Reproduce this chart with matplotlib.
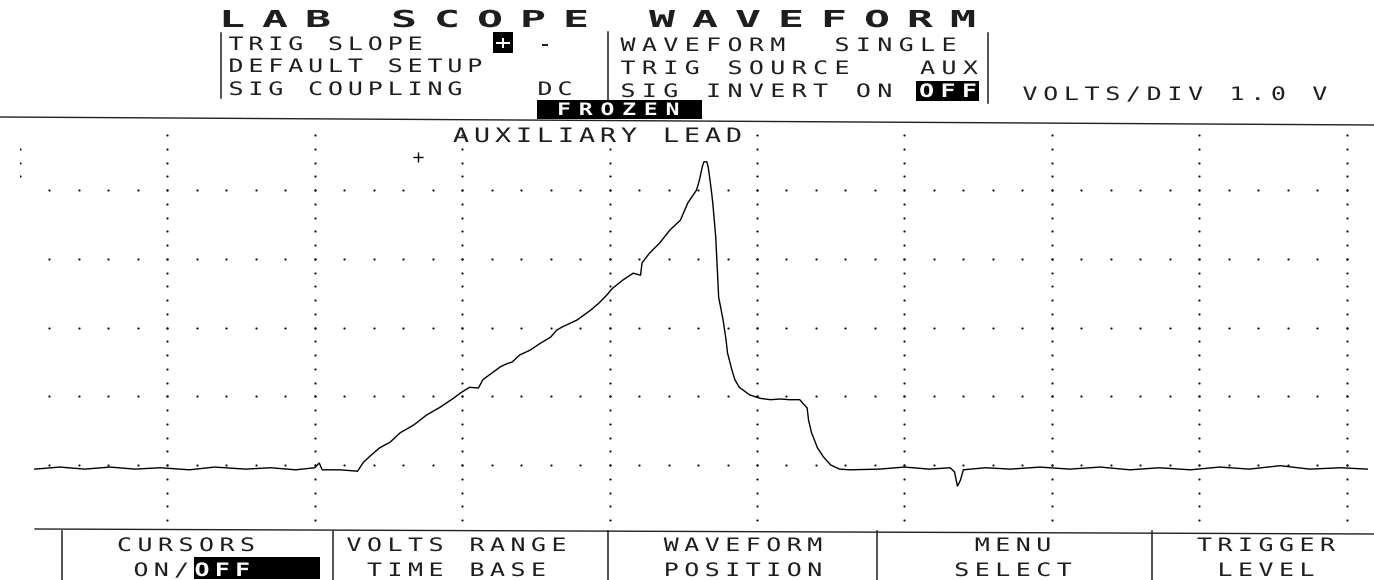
import numpy as np
import matplotlib
matplotlib.use("Agg")
import matplotlib.pyplot as plt
from matplotlib import patheffects
from matplotlib.path import Path
from matplotlib.patches import Rectangle

# ------------------------------------------------------------------ data
# captured trace: time in screen divisions, voltage in volts (1.0 V/div)
time_div = [0.10, 0.27, 0.44, 0.61, 0.78, 0.95, 1.15, 1.32, 1.53, 1.70, 1.87,
            2.00, 2.03, 2.05, 2.17, 2.29,
            2.33, 2.37, 2.44, 2.51, 2.58, 2.67, 2.76, 2.85, 2.94, 2.99, 3.05,
            3.11, 3.14, 3.19, 3.26, 3.30, 3.34, 3.39, 3.46, 3.53, 3.60, 3.64,
            3.68, 3.78, 3.87, 3.93, 3.98, 4.02, 4.09, 4.16, 4.21, 4.22, 4.27,
            4.34, 4.41, 4.48, 4.53, 4.59, 4.61, 4.63, 4.64, 4.66, 4.67,
            4.69, 4.70, 4.72, 4.73, 4.74, 4.77, 4.79, 4.80, 4.83, 4.85, 4.88,
            4.95, 5.02, 5.09, 5.16, 5.22, 5.29, 5.31, 5.34, 5.35, 5.37, 5.41,
            5.45, 5.50, 5.56, 5.63,
            5.83, 6.00, 6.17, 6.31, 6.34, 6.36, 6.38, 6.40, 6.55, 6.72, 6.92,
            7.12, 7.33, 7.53, 7.73, 7.94, 8.14, 8.34, 8.55, 8.75, 8.96, 9.14]
volts = [-0.06, -0.03, -0.06, -0.03, -0.06, -0.04, -0.07, -0.03, -0.06, -0.04, -0.07,
         -0.04, 0.03, -0.07, -0.07, -0.09,
         0.04, 0.12, 0.25, 0.33, 0.47, 0.58, 0.73, 0.84, 0.97, 1.05, 1.13,
         1.12, 1.24, 1.32, 1.43, 1.47, 1.50, 1.60, 1.67, 1.77, 1.86, 1.96,
         2.01, 2.11, 2.25, 2.36, 2.47, 2.57, 2.69, 2.79, 2.76, 2.94, 3.08,
         3.23, 3.42, 3.56, 3.81, 4.00, 4.15, 4.35, 4.41, 4.41, 4.32,
         4.00, 3.81, 3.32, 2.88, 2.44, 2.11, 1.82, 1.63, 1.38, 1.24, 1.13,
         1.02, 0.97, 0.95, 0.96, 0.95, 0.95, 0.90, 0.83, 0.65, 0.47, 0.25,
         0.12, 0.00, -0.06, -0.07,
         -0.06, -0.03, -0.06, -0.04, -0.10, -0.31, -0.22, -0.07, -0.04, -0.06, -0.03,
         -0.06, -0.03, -0.07, -0.04, -0.07, -0.03, -0.06, -0.01, -0.06, -0.04, -0.06]
cursor_time_div = 2.70
cursor_volts = 4.48

title_text = "LAB SCOPE WAVEFORM"
setup_left = ["TRIG SLOPE", "DEFAULT SETUP", "SIG COUPLING"]
setup_right = ["WAVEFORM  SINGLE", "TRIG SOURCE   AUX", "SIG INVERT ON"]
scale_text = "VOLTS/DIV 1.0 V"
status_text = "FROZEN"
channel_text = "AUXILIARY LEAD"
menu_top = ["CURSORS", "VOLTS RANGE", "WAVEFORM", "MENU", "TRIGGER"]
menu_bottom = ["ON/", "TIME BASE", "POSITION", "SELECT", "LEVEL"]

# ------------------------------------------------------------------ helpers
W, H, DPI = 1374, 580, 100
MONO = "DejaVu Sans Mono"
ADV = 0.60205      # advance width of DejaVu Sans Mono, in em
CAP = 0.729        # cap height, in em
INK = "#1e1e1e"


class LetterSpacing(patheffects.AbstractPathEffect):
    """Spread (and widen) the glyphs of a monospaced string to a wider pitch."""

    def __init__(self, adv_units, extra_units, widen=1.0):
        super().__init__()
        self.adv = adv_units
        self.extra = extra_units
        self.widen = widen

    def draw_path(self, renderer, gc, tpath, affine, rgbFace=None):
        codes = tpath.codes
        verts = np.array(tpath.vertices, dtype=float, copy=True)
        if codes is not None and len(verts):
            starts = list(np.flatnonzero(codes == Path.MOVETO)) + [len(verts)]
            for a, b in zip(starts[:-1], starts[1:]):
                sel = codes[a:b] != Path.CLOSEPOLY
                xs = verts[a:b][sel, 0]
                if len(xs) == 0:
                    continue
                k = np.floor(((xs.min() + xs.max()) / 2.0) / self.adv)
                centre = (k + 0.5) * self.adv
                verts[a:b, 0] = (centre + (verts[a:b, 0] - centre) * self.widen
                                 + k * self.extra)
            tpath = Path(verts, codes)
        renderer.draw_path(gc, tpath, affine, rgbFace)


def screen_text(ax, s, cx0, baseline, pitch, cap, color=INK, weight="normal",
                widen=1.35):
    em = cap / CAP
    fs = em * 72.0 / DPI
    extra = (pitch - ADV * em) * 100.0 / em
    ax.text(cx0 - ADV * em / 2.0, baseline, s, fontsize=fs, family=MONO,
            fontweight=weight, color=color, ha="left", va="baseline",
            path_effects=[LetterSpacing(ADV * 100.0, extra, widen)])


# ------------------------------------------------------------------ figure
fig = plt.figure(figsize=(W / DPI, H / DPI), dpi=DPI)
fig.patch.set_facecolor("white")

# oscilloscope screen (time divisions x volts)
scr_top, scr_bot, scr_left, div_px = 121.25, 533.75, 20.0, 147.4
scr = fig.add_axes([scr_left / W, (H - scr_bot) / H, (W - scr_left) / W,
                    (scr_bot - scr_top) / H])
scr.set_xlim(0, (W - scr_left) / div_px)
scr.set_ylim(-1.0, 5.0)
scr.axis("off")

dot = dict(ls="none", marker="o", ms=1.6, color="#151515", mec="none")
row_t = np.arange(0.2, 9.01, 0.2)
for v in range(0, 5):
    scr.plot(row_t, np.full_like(row_t, v * 1.0), **dot)
col_v = np.arange(-0.8, 4.81, 0.2)
for k in range(1, 10):
    scr.plot(np.full_like(col_v, float(k)), col_v, **dot)
scr.plot([0, 0, 0], [4.2, 4.4, 4.6], **dot)

scr.plot(time_div, np.array(volts) / 1.0, color="black", lw=1.0,
         solid_joinstyle="miter")
scr.plot(cursor_time_div, cursor_volts, marker="+", ms=7, mew=1.0,
         color="black")

# overlay for the instrument text and frame (pixel units)
ov = fig.add_axes([0, 0, 1, 1])
ov.set_xlim(0, W)
ov.set_ylim(H, 0)
ov.axis("off")
ov.patch.set_alpha(0)

# frame lines
ov.plot([0, W], [117, 125], color="#222222", lw=1.0)
ov.plot([35, W], [529, 534], color="#222222", lw=1.0)
for x, y0, y1 in [(221, 33, 98), (608, 32, 100), (988, 33, 103)]:
    ov.plot([x, x], [y0, y1], color="#222222", lw=1.1)
for x in [62, 333, 608, 877, 1152]:
    ov.plot([x, x], [531, 580], color="#222222", lw=1.1)

# title
screen_text(ov, title_text, 232, 27, 43.0, 17, weight="bold", widen=1.85)

# setup block
left_base = [50, 72, 95]
for s, b in zip(setup_left, left_base):
    screen_text(ov, s, 236, b, 19.9, 13.5)
ov.add_patch(Rectangle((493, 32), 20, 21, color="black", lw=0))
screen_text(ov, "+", 503, 49, 20, 13.5, color="white", weight="bold")
screen_text(ov, "-", 545, 50, 20, 13.5)
screen_text(ov, "DC", 545, 95, 20, 13.5)

right_base = [51, 74, 97]
for s, b in zip(setup_right, right_base):
    screen_text(ov, s, 628, b, 21.4, 13.5)
ov.add_patch(Rectangle((916, 81), 63, 20, color="black", lw=0))
screen_text(ov, "OFF", 926.6, 97, 21.4, 13.5, color="white", weight="bold")

screen_text(ov, scale_text, 1030, 100, 20.7, 13.5)

# status + channel
ov.add_patch(Rectangle((537, 100), 165, 19, color="black", lw=0))
screen_text(ov, status_text, 564, 115, 21.7, 12.5, color="white", weight="bold")
screen_text(ov, channel_text, 461, 142, 21.0, 14.5)

# soft-key menu
menu_centres = [186, 456.5, 743, 1013, 1266]
pitch_m = 20.5
for s, c in zip(menu_top, menu_centres):
    screen_text(ov, s, c - (len(s) - 1) * pitch_m / 2.0, 551, pitch_m, 13.5)
for s, c in zip(menu_bottom[1:], menu_centres[1:]):
    screen_text(ov, s, c - (len(s) - 1) * pitch_m / 2.0, 576, pitch_m, 13.5)
screen_text(ov, menu_bottom[0], 141, 576, 20.3, 13.5)
ov.add_patch(Rectangle((194, 557), 126, 22, color="black", lw=0))
screen_text(ov, "OFF", 202, 576, 20.3, 13.5, color="white", weight="bold")

fig.savefig("out.png", dpi=DPI, facecolor="white")
